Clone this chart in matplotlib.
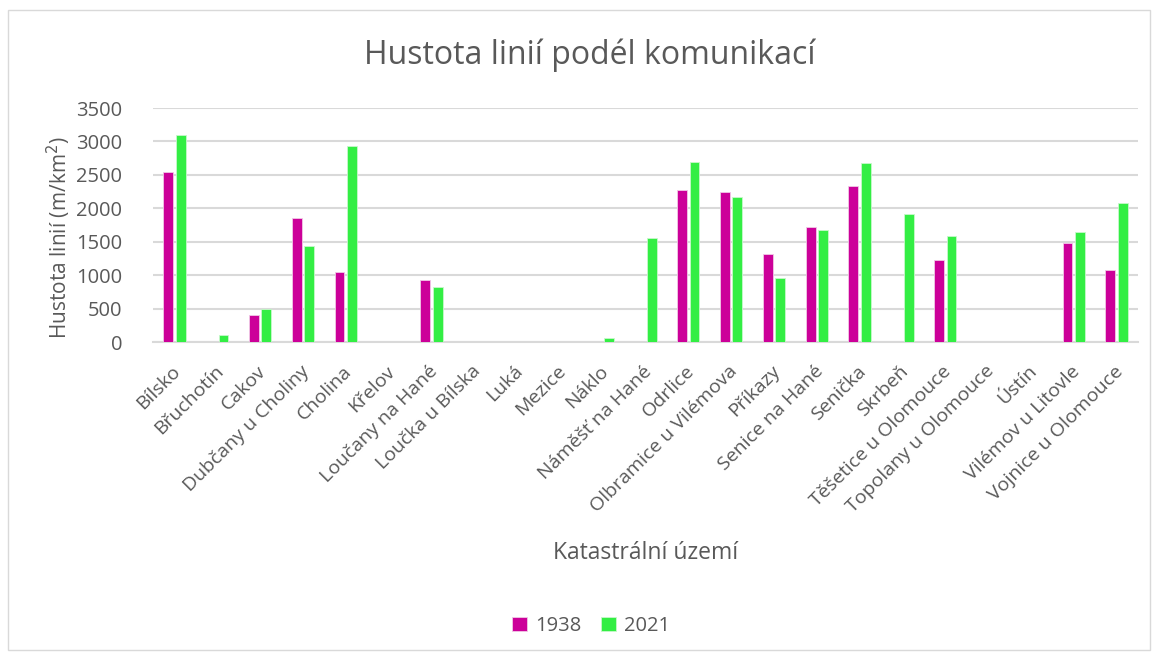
import matplotlib
matplotlib.use('Agg')
import matplotlib.pyplot as plt
import matplotlib.transforms as mtransforms
import numpy as np
from matplotlib.patches import Rectangle

plt.rcParams['font.family'] = ['Open Sans', 'DejaVu Sans']

categories = ['Bílsko', 'Břuchotín', 'Cakov', 'Dubčany u Choliny', 'Cholina', 'Křelov',
              'Loučany na Hané', 'Loučka u Bílska', 'Luká', 'Mezice', 'Náklo',
              'Náměšť na Hané', 'Odrlice', 'Olbramice u Vilémova', 'Příkazy',
              'Senice na Hané', 'Senička', 'Skrbeň', 'Těšetice u Olomouce',
              'Topolany u Olomouce', 'Ústín', 'Vilémov u Litovle', 'Vojnice u Olomouce']
y1938 = [2550, 0, 400, 1850, 1050, 0, 925, 0, 0, 0, 0, 0, 2275, 2245, 1310,
         1715, 2335, 0, 1225, 0, 0, 1480, 1075]
y2021 = [3100, 100, 500, 1440, 2925, 0, 825, 0, 0, 0, 65, 1555, 2685, 2165, 955,
         1670, 2675, 1910, 1585, 0, 0, 1650, 2080]

c1938 = '#CC0099'
c2021 = '#33EE44'
grey = '#595959'

W, H = 1157, 657
fig = plt.figure(figsize=(W / 100, H / 100), dpi=100)
fig.patches.append(Rectangle((8 / W, 7 / H), 1142 / W, 640 / H, transform=fig.transFigure,
                             fill=False, edgecolor='#D9D9D9', linewidth=1))

ax = fig.add_axes([153 / W, 1 - 342 / H, 985 / W, 234 / H])
x = np.arange(len(categories))
bw = 0.23
ax.bar(x - 0.145, y1938, bw, color=c1938, edgecolor='#F0C8E6', linewidth=0.6, label='1938', zorder=3)
ax.bar(x + 0.145, y2021, bw, color=c2021, edgecolor='#C8F8CC', linewidth=0.6, label='2021', zorder=3)

ax.set_xlim(-0.5, len(categories) - 0.5)
ax.set_ylim(0, 3500)
ax.set_yticks(np.arange(0, 3501, 500))
ax.grid(axis='y', color='#D9D9D9', linewidth=1.5, zorder=0)
for s in ['top', 'right', 'left']:
    ax.spines[s].set_visible(False)
ax.spines['bottom'].set_color('#D9D9D9')
ax.spines['bottom'].set_linewidth(1.5)
ax.tick_params(axis='both', length=0, colors=grey, labelsize=14.5)
ax.tick_params(axis='y', pad=22)
ax.set_xticks(x)
ax.set_xticklabels(categories, rotation=45, ha='right', rotation_mode='anchor', fontsize=14)
ax.tick_params(axis='x', pad=14.5)
shift = mtransforms.ScaledTranslation(-3 / 100, 0, fig.dpi_scale_trans)
for lab in ax.get_xticklabels():
    lab.set_transform(lab.get_transform() + shift)

fig.text(590 / W, 1 - 55 / H, 'Hustota linií podél komunikací', ha='center', va='center',
         fontsize=23, color=grey)
fig.text(59 / W, 1 - 238 / H, 'Hustota linií (m/km$^2$)', rotation=90, ha='center', va='center',
         fontsize=15, color=grey)
fig.text(646 / W, 1 - 553 / H, 'Katastrální území', ha='center', va='center',
         fontsize=16.5, color=grey)

fig.legend(loc='center', bbox_to_anchor=(591 / W, 1 - 626 / H), ncol=2, frameon=False,
           fontsize=14.5, labelcolor=grey, handlelength=0.75, handleheight=0.75,
           handletextpad=0.4, columnspacing=1.0)

fig.savefig('out.png', dpi=100)
